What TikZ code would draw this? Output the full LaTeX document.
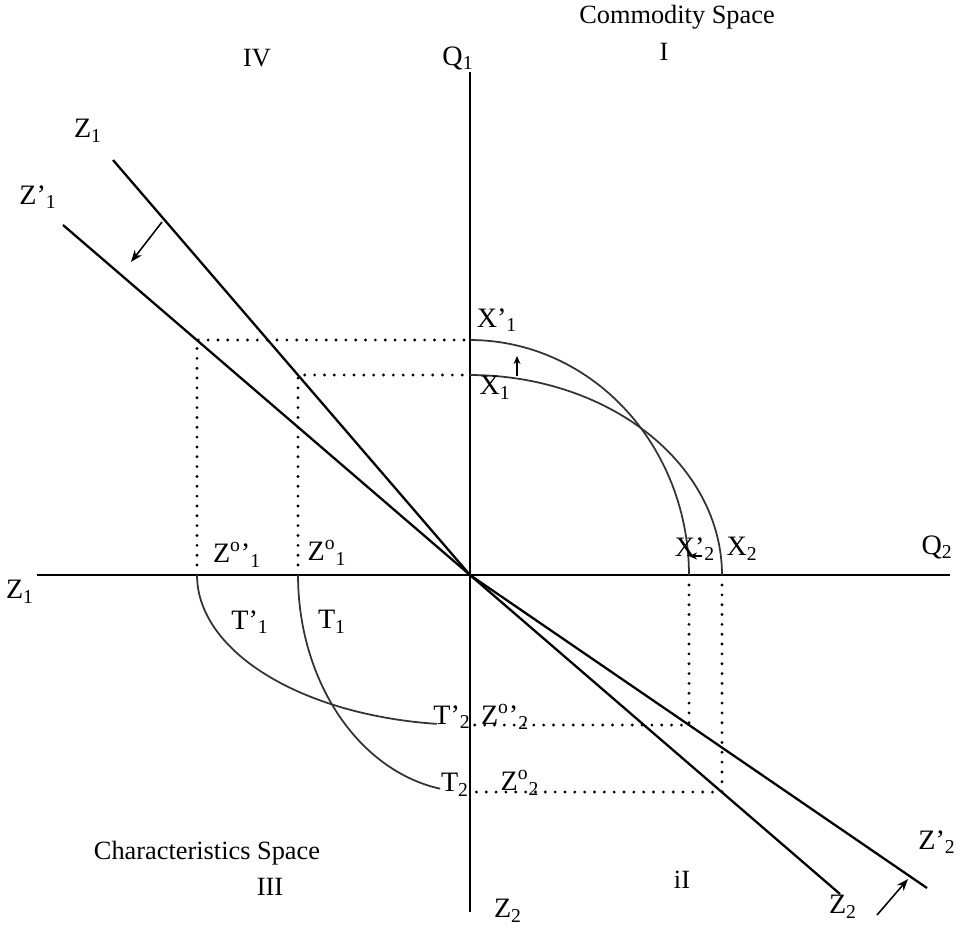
\documentclass[tikz,border=0pt]{standalone}
\usepackage{fontspec}
\setmainfont{Liberation Serif}
\usetikzlibrary{arrows.meta,calc}
\tikzset{
  >={Stealth[length=2.4mm,width=1.8mm]},
  % axes and lines
  ax/.style={draw=black,line width=1.2pt},
  zl/.style={draw=black,line width=1.3pt},
  cv/.style={draw=black!80,line width=1pt},
  dt/.style={draw=black,line width=1.8pt,dash pattern=on 0pt off 5.6pt,line cap=round},
  % shifts
  sh/.style={->,line width=0.9pt},
  shs/.style={-{Stealth[length=1.6mm,width=1.4mm]},line width=0.9pt},
  lb/.style={font=\fontsize{16}{19}\selectfont,inner sep=0pt},
  tl/.style={font=\fontsize{15}{18}\selectfont,inner sep=0pt},
}
\begin{document}
\begin{tikzpicture}[x=0.02cm,y=-0.02cm]
  \useasboundingbox (0,0) rectangle (962,931);
  \coordinate (O) at (470,575);
  \coordinate (q1) at (470,72);
  \coordinate (z2b) at (470,912);
  \coordinate (z1l) at (37,575);
  \coordinate (q2) at (950,575);
  \coordinate (Z1e) at (113,160);
  \coordinate (Z1pe) at (63,225);
  \coordinate (Z2e) at (840,894);
  \coordinate (Z2pe) at (927,888);
  \coordinate (c1) at (298,375);
  \coordinate (c1p) at (197,340);
  \coordinate (c2) at (722,792);
  \coordinate (c2p) at (689,725);
  \draw[ax] (q1) -- (z2b);
  \draw[ax] (z1l) -- (q2);
  \draw[zl] (Z1e) -- (O) -- (Z2e);
  \draw[zl] (Z1pe) -- (O) -- (Z2pe);
  \draw[dt] (197,565) -- (c1p) -- (c1p -| O);
  \draw[dt] (298,565) -- (c1) -- (c1 -| O);
  \draw[dt] (689,585) -- (c2p) -- (c2p -| O);
  \draw[dt] (722,585) -- (c2) -- (c2 -| O);
  \draw[cv,shift={(O)}] plot[domain=90:0,samples=60] ({252*cos(\x)},{-200*sin(\x)});
  \draw[cv,shift={(O)}] plot[domain=90:0,samples=60] ({219*cos(\x)},{-235*sin(\x)});
  \draw[cv,shift={(O)}] plot[domain=180:260,samples=60] ({172*cos(\x)},{-217*sin(\x)});
  \draw[cv,shift={(O)}] plot[domain=180:263,samples=60] ({273*cos(\x)},{-150*sin(\x)});
  \coordinate (s1a) at (162,222);
  \coordinate (s1b) at (131,262);
  \coordinate (s2a) at (877,915);
  \coordinate (s2b) at (908,879);
  \coordinate (s3a) at (517,376);
  \coordinate (s3b) at (517,356);
  \coordinate (s4a) at (702,556);
  \coordinate (s4b) at (689,556);
  \draw[sh] (s1a) -- (s1b);
  \draw[sh] (s2a) -- (s2b);
  \draw[shs] (s3a) -- (s3b);
  \draw[shs] (s4a) -- (s4b);
  \node[tl] (comm) at (677,17) {Commodity Space};
  \node[tl] (qI) at (664,52) {I};
  \node[tl] (qIV) at (257,58) {IV};
  \node[lb] (lq1) at (458,58) {Q\textsubscript{1}};
  \node[lb] (lz1t) at (88,131) {Z\textsubscript{1}};
  \node[lb] (lz1p) at (38,197) {Z'\textsubscript{1}};
  \node[lb] (lx1p) at (497,320) {X'\textsubscript{1}};
  \node[lb] (lx1) at (495,388) {X\textsubscript{1}};
  \node[lb] (lx2p) at (695,549) {X'\textsubscript{2}};
  \node[lb] (lx2) at (742,549) {X\textsubscript{2}};
  \node[lb] (lq2) at (937,547) {Q\textsubscript{2}};
  \node[lb] (lzo1p) at (237,555) {Z\textsuperscript{o}'\textsubscript{1}};
  \node[lb] (lzo1) at (327,553) {Z\textsuperscript{o}\textsubscript{1}};
  \node[lb] (lz1l) at (20,592) {Z\textsubscript{1}};
  \node[lb] (lt1p) at (250,622) {T'\textsubscript{1}};
  \node[lb] (lt1) at (332,622) {T\textsubscript{1}};
  \node[lb] (lt2p) at (452,717) {T'\textsubscript{2}};
  \node[lb] (lzo2p) at (505,717) {Z\textsuperscript{o}'\textsubscript{2}};
  \node[lb] (lt2) at (455,785) {T\textsubscript{2}};
  \node[lb] (lzo2) at (520,783) {Z\textsuperscript{o}\textsubscript{2}};
  \node[tl] (char) at (207,853) {Characteristics Space};
  \node[tl] (qIII) at (270,887) {III};
  \node[lb] (lz2b) at (508,911) {Z\textsubscript{2}};
  \node[tl] (qII) at (682,880) {iI};
  \node[lb] (lz2p) at (937,842) {Z'\textsubscript{2}};
  \node[lb] (lz2) at (843,907) {Z\textsubscript{2}};
\end{tikzpicture}
\end{document}
